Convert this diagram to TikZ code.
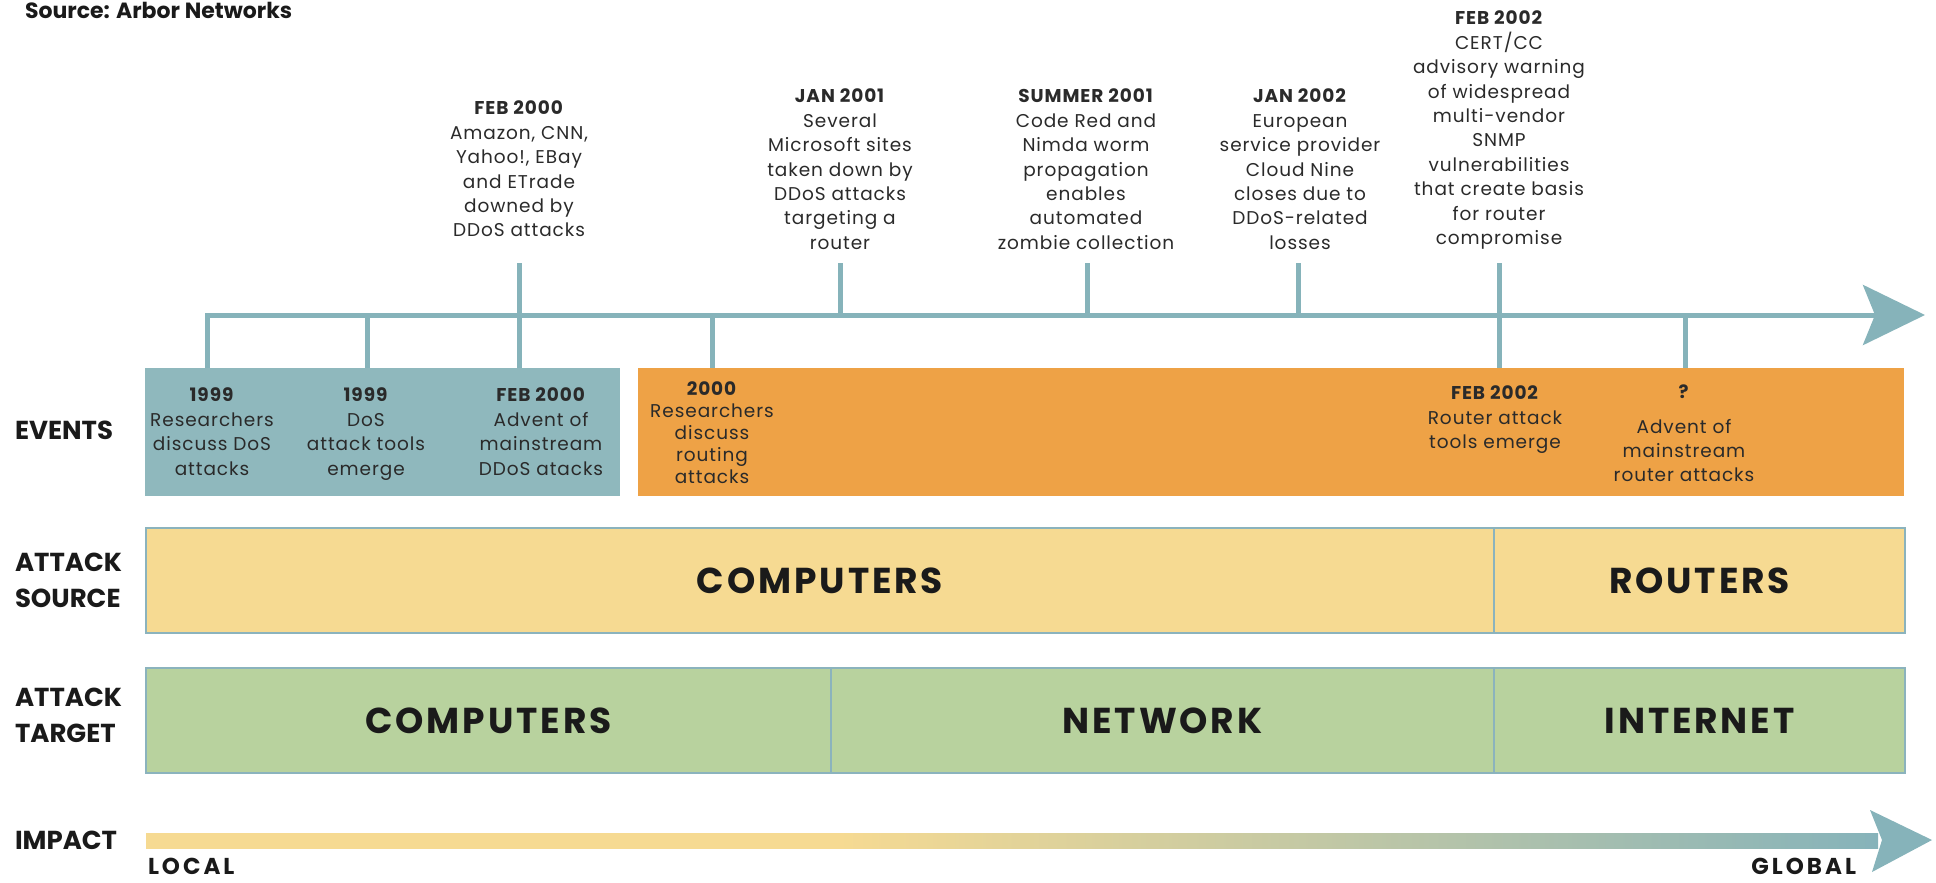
\documentclass[tikz,border=0pt]{standalone}
\usepackage{fontspec}
\usepackage{xcolor}
\setmainfont{Poppins}
\newfontfamily\wideface{Poppins}[LetterSpace=8]
\newfontfamily\scaleface{Poppins}[LetterSpace=13]
\newfontfamily\eventface{Poppins}[LetterSpace=5]
\usetikzlibrary{arrows.meta}

\definecolor{lineteal}{RGB}{134,179,186}
\definecolor{boxteal}{RGB}{143,184,189}
\definecolor{boxorange}{RGB}{238,162,70}
\definecolor{srcyellow}{RGB}{246,218,146}
\definecolor{tgtgreen}{RGB}{184,210,158}
\definecolor{bandedge}{RGB}{139,179,189}
\definecolor{inkdark}{RGB}{26,26,26}
\definecolor{inkbody}{RGB}{42,42,42}

% yellow holds for the first stretch, then fades into teal
\pgfdeclarehorizontalshading{impactfade}{100bp}{color(0bp)=(srcyellow); color(25bp)=(srcyellow);
  color(45bp)=(srcyellow); color(75bp)=(lineteal); color(100bp)=(lineteal)}

\begin{document}
\begin{tikzpicture}
  [x=1pt,y=-1pt,
   every node/.style={inner sep=0pt,outer sep=0pt},
   evtext/.style={font=\eventface\fontsize{18.5}{24.4}\selectfont,align=center,anchor=north,text=inkbody},
   rowlabel/.style={font=\fontsize{26}{36}\selectfont\bfseries,align=left,anchor=west,text=inkdark},
   scalelabel/.style={font=\scaleface\fontsize{23}{26}\selectfont\bfseries,text=inkdark},
   period/.style={minimum height=128pt,anchor=north west},
   band/.style={draw=bandedge,line width=2pt,minimum height=105pt,anchor=north west,
                font=\wideface\fontsize{36}{40}\selectfont\bfseries,text=inkdark},
   tline/.style={lineteal,line width=5pt},
   tick/.style={lineteal,line width=5pt}]

  \useasboundingbox (0,0) rectangle (1936,883);

  \node[font=\fontsize{22}{26}\selectfont\bfseries,anchor=base west,text=inkdark] (credit) at (25,19) {Source: Arbor Networks};

  % row headings
  \node[rowlabel] (lbev)  at (15,430) {EVENTS};
  \node[rowlabel] (lbsrc) at (15,580) {ATTACK\\SOURCE};
  \node[rowlabel] (lbtgt) at (15,715) {ATTACK\\TARGET};
  \node[rowlabel] (lbimp) at (15,840) {IMPACT};

  % event periods
  \node[period,fill=boxteal,minimum width=475pt] (early) at (145,368) {};
  \node[period,fill=boxorange,minimum width=1266pt] (later) at (638,368) {};

  % source and target bands
  \node[band,fill=srcyellow,minimum width=1348pt] (srcpc)   at (146,528)  {COMPUTERS};
  \node[band,fill=srcyellow,minimum width=411pt]  (srcrt)   at (1494,528) {ROUTERS};
  \node[band,fill=tgtgreen,minimum width=685pt]   (tgtpc)   at (146,668)  {COMPUTERS};
  \node[band,fill=tgtgreen,minimum width=663pt]   (tgtnet)  at (831,668)  {NETWORK};
  \node[band,fill=tgtgreen,minimum width=411pt]   (tgtinet) at (1494,668) {INTERNET};

  % marks on the time line
  \coordinate (m1) at (207,315);
  \coordinate (m2) at (367,315);
  \coordinate (m3) at (519,315);
  \coordinate (m4) at (712,315);
  \coordinate (m5) at (840,315);
  \coordinate (m6) at (1087,315);
  \coordinate (m7) at (1298,315);
  \coordinate (m8) at (1499,315);
  \coordinate (m9) at (1685,315);
  \coordinate (tip) at (1925,315);

  \coordinate (u3) at (519,263);
  \coordinate (u5) at (840,263);
  \coordinate (u6) at (1087,263);
  \coordinate (u7) at (1298,263);
  \coordinate (u8) at (1499,263);

  \draw[tline,-{Stealth[length=62pt,width=60pt,inset=12pt]}] (m1 |- early.north) -- (m1) -- (tip);

  \foreach \m in {m2,m3}
    \draw[tick] (\m) -- (\m |- early.north);
  \foreach \m in {m4,m8,m9}
    \draw[tick] (\m) -- (\m |- later.north);
  \foreach \u/\m in {u3/m3,u5/m5,u6/m6,u7/m7,u8/m8}
    \draw[tick] (\u) -- (\m);

  % events above the line
  \node[evtext] (feb00) at (519,101) {\textbf{FEB 2000}\\Amazon, CNN,\\Yahoo!, EBay\\and ETrade\\downed by\\DDoS attacks};
  \node[evtext] (jan01) at (840,89) {\textbf{JAN 2001}\\Several\\Microsoft sites\\taken down by\\DDoS attacks\\targeting a\\router};
  \node[evtext] (sum01) at (1086,89) {\textbf{SUMMER 2001}\\Code Red and\\Nimda worm\\propagation\\enables\\automated\\zombie collection};
  \node[evtext] (jan02) at (1300,89) {\textbf{JAN 2002}\\European\\service provider\\Cloud Nine\\closes due to\\DDoS-related\\losses};
  \node[evtext] (feb02) at (1499,11) {\textbf{FEB 2002}\\CERT/CC\\advisory warning\\of widespread\\multi-vendor\\SNMP\\vulnerabilities\\that create basis\\for router\\compromise};

  % events inside the periods
  \node[evtext] (e99a)  at (212,388) {\textbf{1999}\\Researchers\\discuss DoS\\attacks};
  \node[evtext] (e99b)  at (366,388) {\textbf{1999}\\DoS\\attack tools\\emerge};
  \node[evtext] (e00)   at (541,388) {\textbf{FEB 2000}\\Advent of\\mainstream\\DDoS atacks};
  \node[evtext,font=\eventface\fontsize{18.5}{22}\selectfont] (e00r) at (712,382) {\textbf{2000}\\Researchers\\discuss\\routing\\attacks};
  \node[evtext] (e02)   at (1495,386) {\textbf{FEB 2002}\\Router attack\\tools emerge};
  \node[evtext] (enext) at (1684,385) {\textbf{?}\\[10pt]Advent of\\mainstream\\router attacks};

  % impact scale
  \shade[shading=impactfade] (146,833) rectangle (1878,848);
  \fill[lineteal] (1870,810) -- (1932,840) -- (1872,872) -- (1882,840) -- cycle;
  \node[scalelabel,anchor=west] (local)  at (148,866)  {LOCAL};
  \node[scalelabel,anchor=east] (global) at (1856,866) {GLOBAL};
\end{tikzpicture}
\end{document}
